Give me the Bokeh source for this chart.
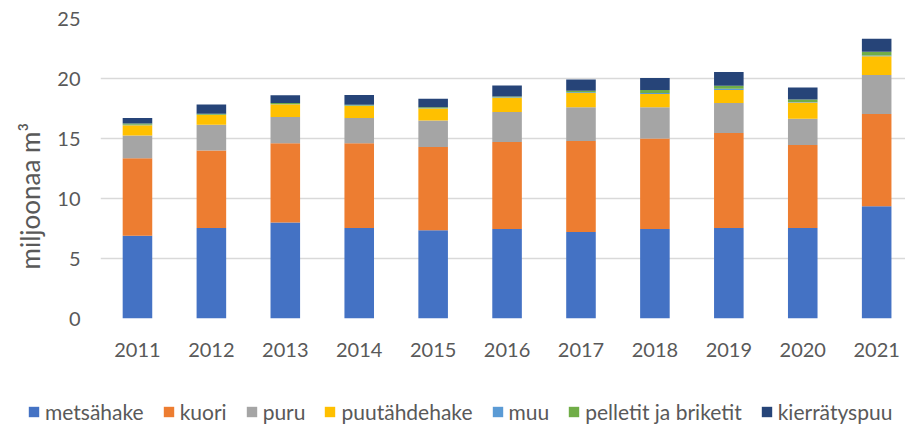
from bokeh.plotting import figure
from bokeh.layouts import column, row
from bokeh.models import ColumnDataSource, Legend, LegendItem, Title, FixedTicker
from bokeh.embed import file_html
from bokeh.resources import INLINE

years = [2011, 2012, 2013, 2014, 2015, 2016, 2017, 2018, 2019, 2020, 2021]
year_labels = [str(y) for y in years]
series_names = ["metsähake", "kuori", "puru", "puutähdehake", "muu", "pelletit ja briketit", "kierrätyspuu"]
metsahake = [6.9, 7.55, 8.0, 7.55, 7.35, 7.45, 7.2, 7.45, 7.55, 7.55, 9.35]
kuori = [6.45, 6.45, 6.6, 7.05, 6.95, 7.25, 7.6, 7.55, 7.9, 6.9, 7.7]
puru = [1.9, 2.15, 2.2, 2.1, 2.2, 2.5, 2.8, 2.6, 2.5, 2.2, 3.25]
puutahdehake = [0.85, 0.8, 1.05, 1.0, 1.0, 1.2, 1.2, 1.1, 1.1, 1.35, 1.55]
muu = [0.05, 0.03, 0.03, 0.04, 0.03, 0.03, 0.05, 0.1, 0.1, 0.05, 0.07]
pelletit = [0.1, 0.08, 0.07, 0.08, 0.08, 0.08, 0.12, 0.25, 0.25, 0.2, 0.3]
kierratyspuu = [0.45, 0.77, 0.65, 0.8, 0.7, 0.9, 0.95, 1.0, 1.15, 1.0, 1.1]
y_ticks = [0, 5, 10, 15, 20, 25]

colors = ["#4472C4", "#ED7D31", "#A5A5A5", "#FFC000", "#5B9BD5", "#70AD47", "#264478"]
keys = ["s0", "s1", "s2", "s3", "s4", "s5", "s6"]
data = dict(x=years)
for k, vals in zip(keys, [metsahake, kuori, puru, puutahdehake, muu, pelletit, kierratyspuu]):
    data[k] = vals
source = ColumnDataSource(data)

FONT = "Lato"
GREY = "#595959"

p = figure(frame_width=805, frame_height=300, output_backend="svg", toolbar_location=None,
           x_range=(2010.5, 2021.39), y_range=(0, 25),
           min_border_left=100, min_border_right=0, min_border_top=18, min_border_bottom=42)
p.outline_line_color = None

renderers = p.vbar_stack(keys, x="x", width=0.4, source=source, color=colors, line_color=None)

p.xaxis.ticker = FixedTicker(ticks=years)
p.xaxis.major_label_overrides = {y: l for y, l in zip(years, year_labels)}
p.yaxis.ticker = FixedTicker(ticks=y_ticks)
for ax in (p.xaxis, p.yaxis):
    ax.axis_line_color = None
    ax.major_tick_line_color = None
    ax.minor_tick_line_color = None
    ax.major_label_text_font = FONT
    ax.major_label_text_font_size = "20px"
    ax.major_label_text_color = GREY
p.yaxis.major_label_standoff = 14
p.xaxis.major_label_standoff = 18

p.xgrid.grid_line_color = None
p.ygrid.grid_line_color = "#D9D9D9"
p.ygrid.grid_line_width = 1.5

p.add_layout(Title(text="miljoonaa m³", align="left", offset=49, standoff=18,
                   text_font=FONT, text_font_size="26px", text_font_style="normal",
                   text_color=GREY), "left")

# legend strip (same stacked series, kept outside its visible range)
lg = figure(frame_width=905, frame_height=64, output_backend="svg", toolbar_location=None,
            x_range=(0, 1), y_range=(0, 1), x_axis_location=None, y_axis_location=None,
            min_border_left=0, min_border_right=0, min_border_top=0, min_border_bottom=0)
lg.outline_line_color = None
lg.grid.grid_line_color = None
lg_renderers = lg.vbar_stack(keys, x="x", width=0.4, source=source, color=colors, line_color=None)

items = [LegendItem(label=n, renderers=[r]) for n, r in zip(series_names, lg_renderers)]
legend = Legend(items=items, orientation="horizontal", location=(27, 0),
                glyph_width=13, glyph_height=13, label_standoff=5, spacing=18,
                padding=0, margin=0, border_line_color=None,
                background_fill_alpha=0,
                label_text_font=FONT, label_text_font_size="21px", label_text_color=GREY)
lg.add_layout(legend, "center")

layout = column(p, row(lg), spacing=0)
open("out.html", "w").write(file_html(layout, INLINE))
